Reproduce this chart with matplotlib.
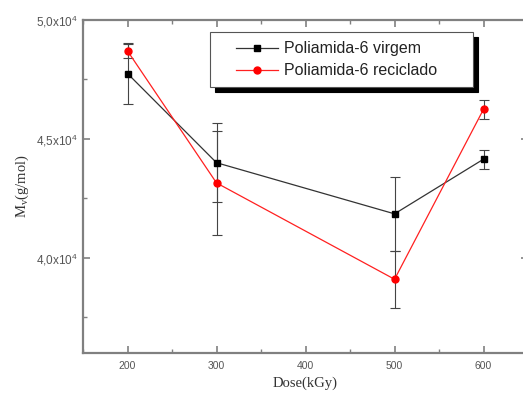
import matplotlib.pyplot as plt
from matplotlib.ticker import FixedLocator, MultipleLocator, FuncFormatter
from matplotlib.legend_handler import HandlerLine2D

# dose (kGy) and molar mass values
dose = [200, 300, 500, 600]
mv_virgem = [47750, 44000, 41850, 44150]
err_virgem = [1280, 1650, 1550, 400]
mv_reciclado = [48700, 43150, 39100, 46250]
err_reciclado = [300, 2200, 1200, 400]

x_ticks = [200, 300, 400, 500, 600]
y_ticks = [40000, 45000, 50000]


class ShiftedLine(HandlerLine2D):
    # leave a blank gap on the left of the legend handle
    def create_artists(self, legend, orig_handle, xdescent, ydescent,
                       width, height, fontsize, trans):
        shift = 0.29 * width
        return super().create_artists(legend, orig_handle, xdescent - shift,
                                      ydescent, width - shift, height,
                                      fontsize, trans)


fig = plt.figure(figsize=(5.23, 4.0), dpi=100)
ax = fig.add_axes([0.1587, 0.1175, 0.851, 0.8325])

ax.errorbar(dose, mv_virgem, yerr=err_virgem, fmt='none', ecolor='#444444',
            elinewidth=0.8, capsize=3.5, capthick=0.8)
ax.errorbar(dose, mv_reciclado, yerr=err_reciclado, fmt='none', ecolor='#444444',
            elinewidth=0.8, capsize=3.5, capthick=0.8)
l1, = ax.plot(dose, mv_virgem, color='#333333', marker='s', markersize=5,
              markerfacecolor='black', markeredgecolor='black', lw=0.9,
              label='Poliamida-6 virgem')
l2, = ax.plot(dose, mv_reciclado, color='#ff2020', marker='o', markersize=5,
              markerfacecolor='red', markeredgecolor='red', lw=0.9,
              label='Poliamida-6 reciclado')

ax.set_xlim(150, 650)
ax.set_ylim(36000, 50000)
ax.xaxis.set_major_locator(FixedLocator(x_ticks))
ax.xaxis.set_minor_locator(MultipleLocator(50))
ax.yaxis.set_major_locator(FixedLocator(y_ticks))
ax.yaxis.set_minor_locator(MultipleLocator(2500))

def fmt(v, pos):
    return (r'%.1f' % (v / 1e4)).replace('.', ',') + r'x10$^\mathregular{4}$'

ax.yaxis.set_major_formatter(FuncFormatter(fmt))

for s in ax.spines.values():
    s.set_color('#808080')
    s.set_linewidth(1.6)
ax.tick_params(which='both', direction='in', top=True, right=True,
               colors='#808080', labelcolor='#555555',
               labelfontfamily='Liberation Sans')
ax.tick_params(axis='x', labelsize=7.5, pad=6)
ax.tick_params(axis='y', labelsize=8.5)
ax.tick_params(which='major', length=5, width=1.2)
ax.tick_params(which='minor', length=3, width=1.0)

ax.set_xlabel('Dose(kGy)', family='Liberation Serif', fontsize=10.5, color='#333333')
ax.set_ylabel(r'M$_\mathregular{v}$(g/mol)', family='Liberation Serif', fontsize=10.5,
              color='#333333')

leg = ax.legend(handles=[l1, l2], loc='upper left',
                bbox_to_anchor=(210 / 523, 1 - 32 / 400, 263 / 523, 0.0),
                bbox_transform=fig.transFigure, mode='expand', borderaxespad=0,
                prop={'family': 'Liberation Sans', 'size': 11.5}, handlelength=3.7,
                handletextpad=0.35, handler_map={l1: ShiftedLine(), l2: ShiftedLine()},
                fancybox=False, framealpha=1, edgecolor='#555555', borderpad=0.57,
                labelspacing=0.45,
                shadow={'ox': 3.6, 'oy': -3.6, 'color': 'black', 'alpha': 1})
leg.get_frame().set_linewidth(0.8)
for t in leg.get_texts():
    t.set_color('#222222')

fig.savefig('out.png', dpi=100)
